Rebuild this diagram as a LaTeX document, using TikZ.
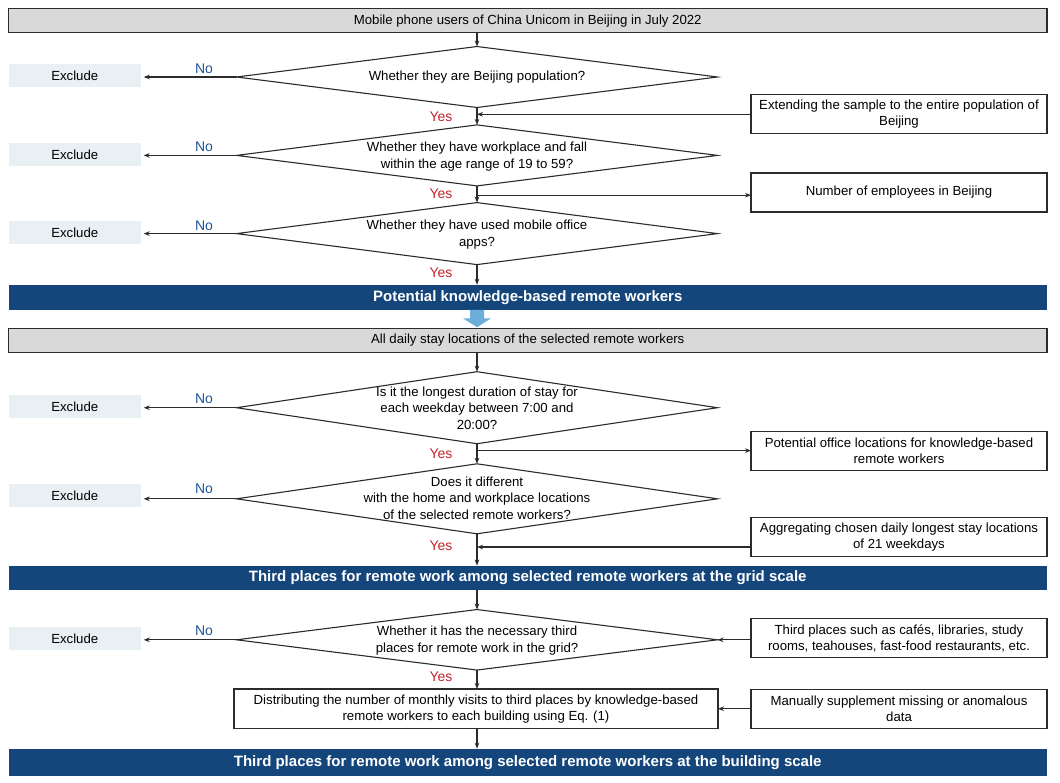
\documentclass[tikz,border=0pt]{standalone}
\usepackage{fontspec}
\setmainfont{Liberation Sans}
\usetikzlibrary{shapes.geometric,arrows.meta}
\definecolor{bannerblue}{HTML}{14467C}
\definecolor{boxgray}{HTML}{D9D9D9}
\definecolor{exclfill}{HTML}{E8F0F4}
\definecolor{nocol}{HTML}{1F5596}
\definecolor{yescol}{HTML}{C4232B}
\definecolor{bigarr}{HTML}{6CADDA}
\definecolor{linecol}{HTML}{2B2B2B}
\begin{document}
\begin{tikzpicture}[x=1pt,y=-1pt,
  font=\fontsize{13.2}{16}\selectfont,
  ln/.style={draw=linecol,line width=1.1pt},
  arr/.style={ln,-{Stealth[length=6pt,width=4.6pt]}},
  graybox/.style={ln,fill=boxgray,minimum width=1038.5pt,minimum height=23.5pt,inner sep=0pt,outer sep=0pt},
  banner/.style={fill=bannerblue,text=white,font=\fontsize{15}{18}\selectfont\bfseries,minimum width=1038.5pt,inner sep=0pt,outer sep=0pt},
  dia/.style={ln,diamond,inner sep=0pt,outer sep=0pt,minimum width=481pt},
  dtext/.style={align=center,inner sep=0pt,font=\fontsize{13.2}{16.5}\selectfont},
  excl/.style={fill=exclfill,minimum width=132.5pt,minimum height=23.3pt,inner sep=0pt},
  side/.style={ln,fill=white,minimum width=296pt,minimum height=39pt,align=center,inner sep=0pt,outer sep=0pt},
  nolab/.style={text=nocol,font=\fontsize{14}{16}\selectfont,inner sep=0pt},
  yeslab/.style={text=yescol,font=\fontsize{14}{16}\selectfont,inner sep=0pt}]
\useasboundingbox (0,0) rectangle (1060,782);

% ---------- top block ----------
\node[graybox] (g1) at (527.75,20.6) {Mobile phone users of China Unicom in Beijing in July 2022};

\node[dia,minimum height=61pt] (d1) at (477,77) {};
\node[dtext] (t1) at (d1) {Whether they are Beijing population?};
\node[dia,minimum height=61pt] (d2) at (477,155.4) {};
\node[dtext] (t2) at (477,156.7) {Whether they have workplace and fall\\within the age range of 19 to 59?};
\node[dia,minimum height=62pt] (d3) at (477,233.6) {};
\node[dtext] (t3) at (477,234.8) {Whether they have used mobile office\\apps?};

\node[banner,minimum height=25pt] (b1) at (527.75,297.3) {Potential knowledge-based remote workers};

\node[excl] (e1) at (74.75,75.4) {Exclude};
\node[excl] (e2) at (74.75,154.3) {Exclude};
\node[excl] (e3) at (74.75,232.5) {Exclude};

\node[side] (ext) at (899,114.3) {Extending the sample to the entire population of\\Beijing};
\node[side] (num) at (899,192.5) {Number of employees in Beijing};

\node[nolab] (n1) at (204,69) {No};
\node[nolab] (n2) at (204,147) {No};
\node[nolab] (n3) at (204,226) {No};
\node[yeslab] (y1) at (441,117) {Yes};
\node[yeslab] (y2) at (441,194) {Yes};
\node[yeslab] (y3) at (441,273) {Yes};

\draw[arr] (g1.south -| d1.north) -- (d1.north);
\draw[arr] (d1.south) -- (d2.north);
\draw[arr] (d2.south) -- (d3.north);
\draw[arr] (d3.south) -- (d3.south |- b1.north);
\draw[arr] (d1.west) -- ([xshift=2.5pt]d1.west -| e1.east);
\draw[arr] (d2.west) -- ([xshift=2.5pt]d2.west -| e2.east);
\draw[arr] (d3.west) -- ([xshift=2.5pt]d3.west -| e3.east);
\coordinate (j1) at (477,114.3);
\draw[arr] (ext.west) -- (j1);
\coordinate (j2) at (477,195.2);
\draw[arr] (j2) -- (j2 -| num.west);

% ---------- big arrow ----------
\coordinate (ba) at (b1.south -| d1.south);
\fill[bigarr] (ba) ++(-7,0) -- ++(14,0) -- ++(0,8.5) -- ++(7,0) -- ++(-14,9) -- ++(-14,-9) -- ++(7,0) -- cycle;

% ---------- middle block ----------
\node[graybox] (g2) at (527.75,340.5) {All daily stay locations of the selected remote workers};

\node[dia,minimum height=72pt] (d4) at (477,407.7) {};
\node[dtext] (t4) at (477,408) {Is it the longest duration of stay for\\each weekday between 7:00 and\\20:00?};
\node[dia,minimum height=70pt] (d5) at (477,498.8) {};
\node[dtext] (t5) at (477,497.9) {Does it different\\with the home and workplace locations\\of the selected remote workers?};

\node[banner,minimum height=24.5pt] (b2) at (527.75,577.8) {Third places for remote work among selected remote workers at the grid scale};

\node[excl] (e4) at (74.75,406.5) {Exclude};
\node[excl] (e5) at (74.75,495.7) {Exclude};

\node[side] (off) at (899,450.8) {Potential office locations for knowledge-based\\remote workers};
\node[side] (agg) at (899,536.7) {Aggregating chosen daily longest stay locations\\of 21 weekdays};

\node[nolab] (n4) at (204,399) {No};
\node[nolab] (n5) at (204,489) {No};
\node[yeslab] (y4) at (441,454) {Yes};
\node[yeslab] (y5) at (441,546) {Yes};

\draw[arr] (g2.south -| d4.north) -- (d4.north);
\draw[arr] (d4.south) -- (d5.north);
\draw[arr] (d5.south) -- (d5.south |- b2.north);
\draw[arr] (d4.west) -- ([xshift=2.5pt]d4.west -| e4.east);
\draw[arr] (d5.west) -- ([xshift=2.5pt]d5.west -| e5.east);
\coordinate (j4) at (477,450.6);
\draw[arr] (j4) -- (j4 -| off.west);
\coordinate (j5) at (477,547);
\draw[arr] (j5 -| agg.west) -- (j5);

% ---------- bottom block ----------
\node[dia,minimum height=60.5pt] (d6) at (477,639.8) {};
\node[dtext] (t6) at (477,640.5) {Whether it has the necessary third\\places for remote work in the grid?};
\node[excl] (e6) at (74.75,638.4) {Exclude};
\node[side] (tp) at (899,638.3) {Third places such as cafés, libraries, study\\rooms, teahouses, fast-food restaurants, etc.};

\node[ln,fill=white,minimum width=484pt,minimum height=39.5pt,align=center,inner sep=0pt,outer sep=0pt] (dist) at (476,708.7) {Distributing the number of monthly visits to third places by knowledge-based\\remote workers to each building using Eq. (1)};
\node[side] (man) at (899,708.7) {Manually supplement missing or anomalous\\data};

\node[banner,minimum height=27pt] (b3) at (527.75,762.2) {Third places for remote work among selected remote workers at the building scale};

\node[nolab] (n6) at (204,630.5) {No};
\node[yeslab] (y6) at (441,677) {Yes};

\draw[arr] (b2.south -| d6.north) -- (d6.north);
\draw[arr] (d6.south) -- (d6.south |- dist.north);
\draw[arr] (d6.south |- dist.south) -- (d6.south |- b3.north);
\draw[arr] (d6.west) -- ([xshift=2.5pt]d6.west -| e6.east);
\draw[arr] (tp.west |- d6.east) -- (d6.east);
\draw[arr] (man.west) -- (dist.east);
\end{tikzpicture}
\end{document}
